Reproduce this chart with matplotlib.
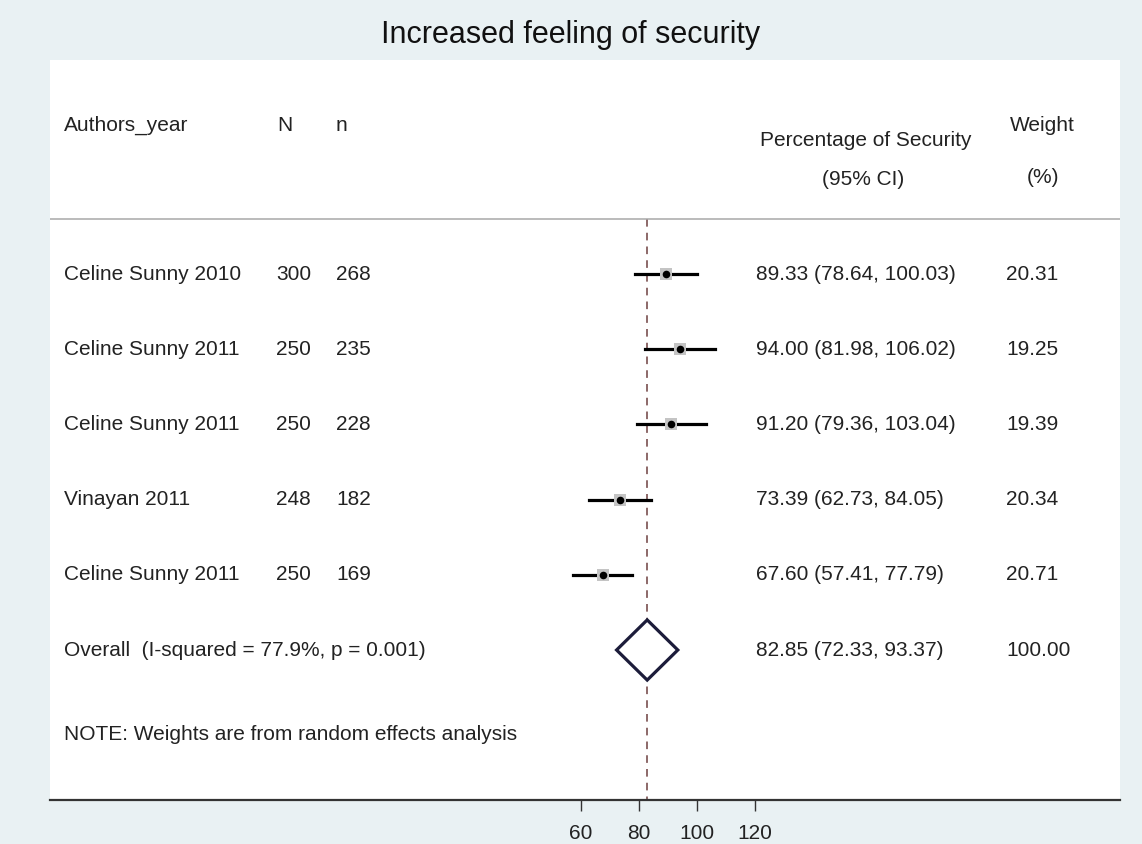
import matplotlib
matplotlib.use("Agg")
import matplotlib.pyplot as plt
from matplotlib import transforms

plt.rcParams['font.family'] = ['Liberation Sans', 'DejaVu Sans']

# study data
authors = ["Celine Sunny 2010", "Celine Sunny 2011", "Celine Sunny 2011",
           "Vinayan 2011", "Celine Sunny 2011"]
N_total = [300, 250, 250, 248, 250]
n_secure = [268, 235, 228, 182, 169]
est = [89.33, 94.00, 91.20, 73.39, 67.60]
ci_lo = [78.64, 81.98, 79.36, 62.73, 57.41]
ci_hi = [100.03, 106.02, 103.04, 84.05, 77.79]
weights = [20.31, 19.25, 19.39, 20.34, 20.71]

# pooled (random effects)
overall_est = 82.85
overall_lo = 72.33
overall_hi = 93.37
i_squared = 77.9
p_het = 0.001

xticks = [60, 80, 100, 120]

W, H = 1142, 844
bg = "#e9f1f3"
txt = "#222222"
fs = 15

fig = plt.figure(figsize=(W / 100, H / 100), dpi=100, facecolor=bg)
# white panel 50..1120 px wide, 60..800 px tall
ax = fig.add_axes([50 / W, (H - 800) / H, 1070 / W, 740 / H])
ax.set_facecolor("white")

# x scale: 60 -> 580.7 px, 2.91 px per unit
px_per = 2.91
ax.set_xlim(60 + (50 - 580.7) / px_per, 60 + (1120 - 580.7) / px_per)
# rows: row k at 198.8 + 75.2*k px
ax.set_ylim((800 - 198.8) / 75.2, (60 - 198.8) / 75.2)

for s in ["top", "left", "right"]:
    ax.spines[s].set_visible(False)
ax.spines["bottom"].set_color("#333333")
ax.spines["bottom"].set_linewidth(1.6)
ax.set_yticks([])
ax.set_xticks(xticks)
ax.tick_params(axis="x", length=8, width=1, colors="#333333", pad=9,
               labelsize=fs, labelcolor=txt)

rows = list(range(1, len(est) + 1))
row_overall = len(est) + 1
sep_y = (219 - 198.8) / 75.2
note_y = (735 - 198.8) / 75.2

# column header and separator
tr = transforms.blended_transform_factory(ax.transAxes, ax.transData)
def col(px):
    return (px - 50) / 1070

ax.axhline(sep_y, color="#a8a8a8", lw=1.1)
ax.text(col(64), -0.98, "Authors_year", transform=tr, fontsize=fs, color=txt, va="center")
ax.text(col(277), -0.98, "N", transform=tr, fontsize=fs, color=txt, va="center")
ax.text(col(336), -0.98, "n", transform=tr, fontsize=fs, color=txt, va="center")
ax.text(col(866), -0.78, "Percentage of Security", transform=tr, fontsize=fs,
        color=txt, va="center", ha="center")
ax.text(col(863), -0.26, "(95% CI)", transform=tr, fontsize=fs, color=txt,
        va="center", ha="center")
ax.text(col(1042), -0.98, "Weight", transform=tr, fontsize=fs, color=txt,
        va="center", ha="center")
ax.text(col(1043), -0.28, "(%)", transform=tr, fontsize=fs, color=txt,
        va="center", ha="center")

# overall effect line
ax.plot([overall_est, overall_est], [sep_y, ax.get_ylim()[0]], color="#6e4040",
        lw=1.1, ls=(0, (5, 4)), zorder=1)

# study estimates
for i, y in enumerate(rows):
    ax.plot([ci_lo[i], ci_hi[i]], [y, y], color="black", lw=2.3, zorder=2)
    ax.scatter(est[i], y, marker="s", s=weights[i] * 3.4, color="#c4c4c4",
               zorder=3, linewidths=0)
    ax.scatter(est[i], y, marker="o", s=30, color="black", linewidths=0, zorder=4)
    ax.text(col(64), y, authors[i], transform=tr, fontsize=fs, color=txt, va="center")
    ax.text(col(276), y, str(N_total[i]), transform=tr, fontsize=fs, color=txt, va="center")
    ax.text(col(336), y, str(n_secure[i]), transform=tr, fontsize=fs, color=txt, va="center")
    ax.text(col(756), y, "%.2f (%.2f, %.2f)" % (est[i], ci_lo[i], ci_hi[i]),
            transform=tr, fontsize=fs, color=txt, va="center")
    ax.text(col(1006), y, "%.2f" % weights[i], transform=tr, fontsize=fs,
            color=txt, va="center")

# pooled diamond
h = 0.4
ax.fill([overall_lo, overall_est, overall_hi, overall_est, overall_lo],
        [row_overall, row_overall - h, row_overall, row_overall + h, row_overall],
        facecolor="white", edgecolor="#1c1c3a", lw=2.3, zorder=3)
ax.text(col(64), row_overall,
        "Overall  (I-squared = %.1f%%, p = %.3f)" % (i_squared, p_het),
        transform=tr, fontsize=fs, color=txt, va="center")
ax.text(col(756), row_overall, "%.2f (%.2f, %.2f)" % (overall_est, overall_lo, overall_hi),
        transform=tr, fontsize=fs, color=txt, va="center")
ax.text(col(1006), row_overall, "%.2f" % sum(weights), transform=tr, fontsize=fs,
        color=txt, va="center")

ax.text(col(64), note_y, "NOTE: Weights are from random effects analysis",
        transform=tr, fontsize=fs, color=txt, va="center")

fig.text(0.5, 1 - 35 / H, "Increased feeling of security", ha="center", va="center",
         fontsize=22, color="#111111")

fig.savefig("out.png", dpi=100, facecolor=bg)
